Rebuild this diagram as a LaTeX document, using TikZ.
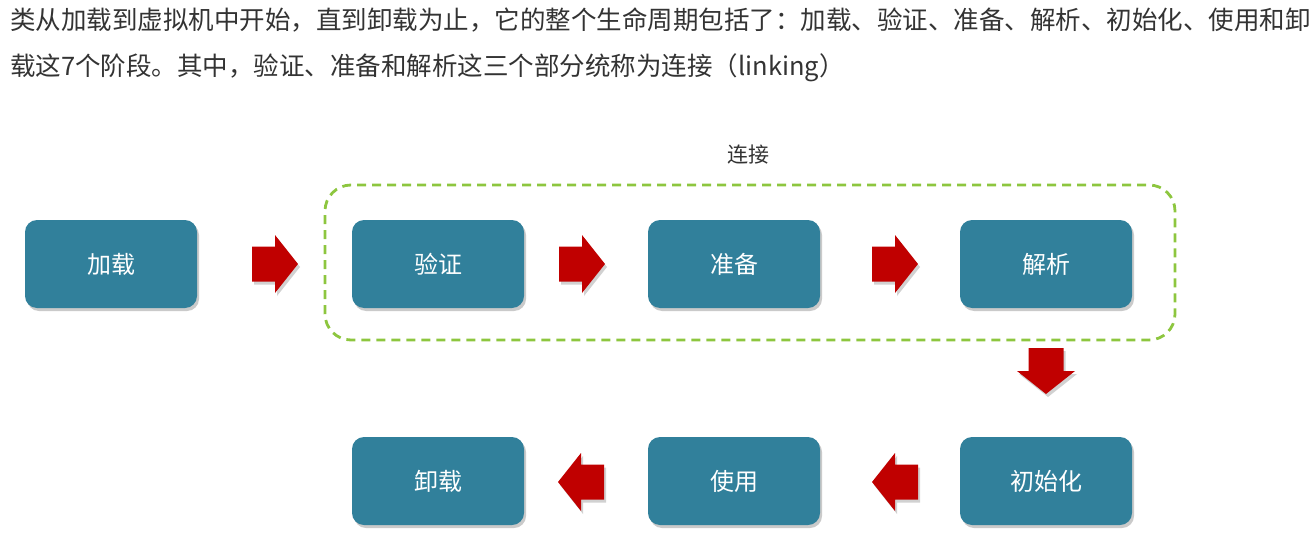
\documentclass[tikz,border=0pt]{standalone}
\usepackage{fontspec}
\setmainfont{Noto Sans CJK SC}
\usetikzlibrary{shadows,calc}
\definecolor{boxteal}{HTML}{31809B}
\definecolor{arrred}{HTML}{C00000}
\definecolor{dashgreen}{HTML}{8DC63F}
\definecolor{txtgray}{HTML}{333333}
\tikzset{
  stage/.style={draw=none, fill=boxteal, rounded corners=12pt, minimum width=172pt, minimum height=88pt,
    text=white, font=\fontsize{24}{28}\selectfont, inner sep=0pt,
    drop shadow={shadow xshift=2pt, shadow yshift=-3pt, opacity=0.35, fill=black!60}},
  barrow/.pic={
    \fill[arrred, drop shadow={shadow xshift=2pt, shadow yshift=-3pt, opacity=0.3, fill=black!60}]
      (-23,-17.5) -- (0,-17.5) -- (0,-29) -- (23,0) -- (0,29) -- (0,17.5) -- (-23,17.5) -- cycle;
  },
  linkbox/.style={draw=dashgreen, line width=2.8pt, dash pattern=on 9pt off 6pt, rounded corners=26pt}
}
\begin{document}
\begin{tikzpicture}[x=1pt,y=1pt]
\useasboundingbox (0,0) rectangle (1316,542);
% header text
\node[anchor=west, align=left, text=txtgray, font=\fontsize{25.5}{46}\selectfont, inner sep=0pt] (head) at (10,497)
  {类从加载到虚拟机中开始，直到卸载为止，它的整个生命周期包括了：加载、验证、准备、解析、初始化、使用和卸\\载这7个阶段。其中，验证、准备和解析这三个部分统称为连接（linking）};
% linking group
\draw[linkbox] (325,202) rectangle (1175,357);
\node[text=txtgray, font=\fontsize{21}{24}\selectfont] (lk) at (748,387) {连接};
% stages
\node[stage] (jz) at (111,278) {加载};
\node[stage] (yz) at (438,278) {验证};
\node[stage] (zb) at (734,278) {准备};
\node[stage] (jx) at (1046,278) {解析};
\node[stage] (csh) at (1046,61) {初始化};
\node[stage] (sy) at (734,61) {使用};
\node[stage] (xz) at (438,61) {卸载};
% block arrows
\pic at (275,278) {barrow};
\pic at (582,278) {barrow};
\pic at (895,278) {barrow};
\pic[rotate=-90] at (1046,171) {barrow};
\pic[rotate=180] at (895,60) {barrow};
\pic[rotate=180] at (581,60) {barrow};
\end{tikzpicture}
\end{document}
